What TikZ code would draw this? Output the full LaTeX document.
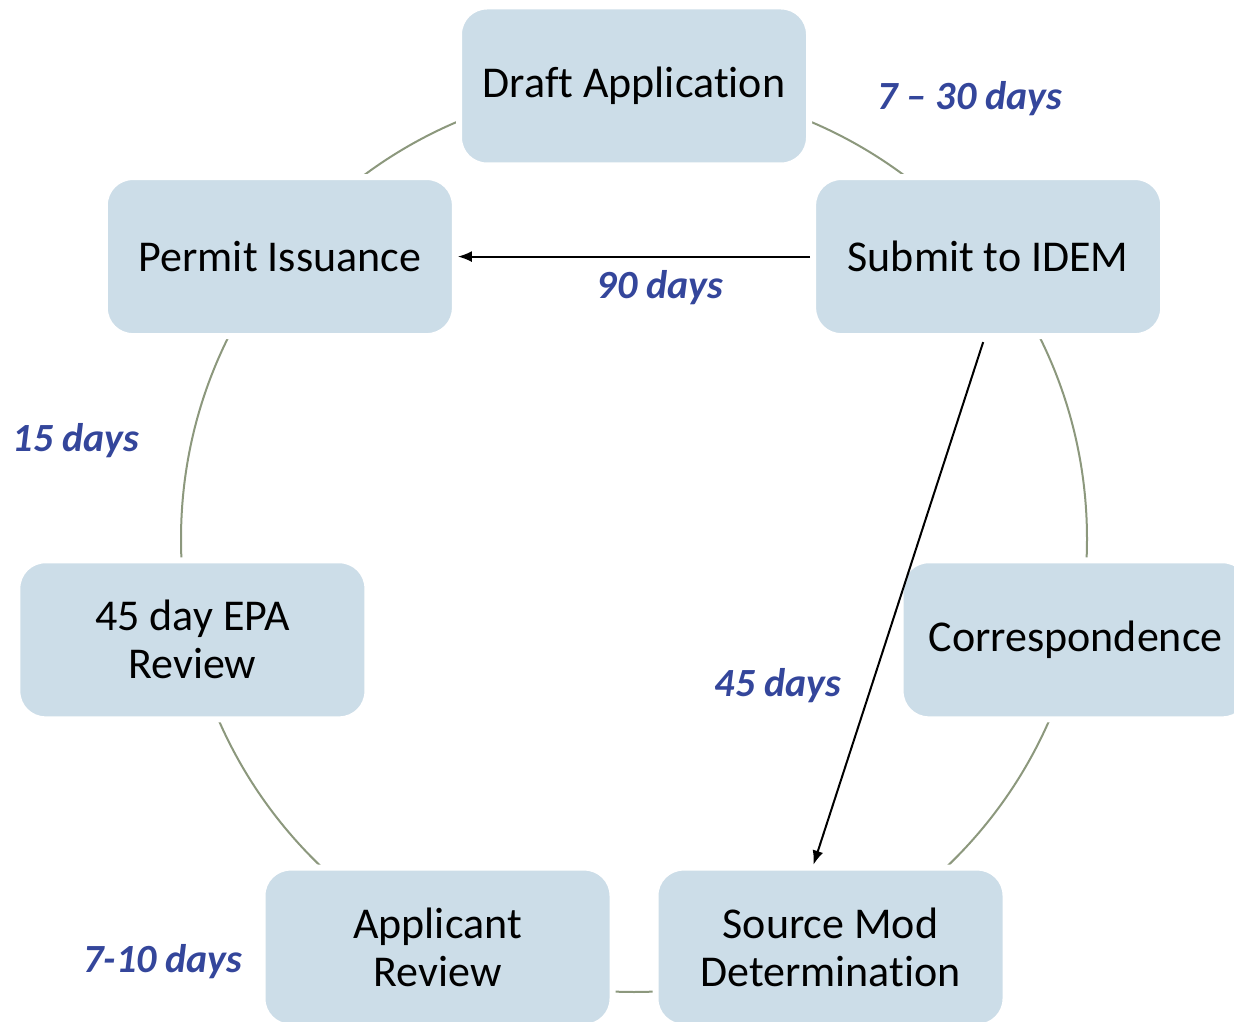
\documentclass[tikz,border=0pt]{standalone}
\usepackage{fontspec}
\setmainfont{Carlito}[Ligatures={TeX,NoCommon}]
\usetikzlibrary{arrows.meta}
\usetikzlibrary{calc}
\usetikzlibrary{positioning}

\definecolor{boxblue}{RGB}{204,221,232}
\definecolor{ringgreen}{RGB}{140,152,125}
\definecolor{daysblue}{RGB}{52,70,155}

\tikzset{
  stepbox/.style={rectangle, rounded corners=28pt, fill=boxblue, draw=white,
    line width=6pt, minimum width=350pt, minimum height=159pt, inner sep=0pt,
    align=center, font=\fontsize{44}{48}\selectfont},
  dayslabel/.style={text=daysblue, font=\fontsize{40}{44}\selectfont\bfseries\itshape},
  flow/.style={line width=2pt, -{Latex[length=14pt,width=11pt]}},
}

\begin{document}
\begin{tikzpicture}[x=1pt, y=1pt]
      \useasboundingbox (0,0) rectangle (1234,1021);
      \clip (0,0) rectangle (1234,1021);
      \coordinate (c) at (634,482);
      \draw[ringgreen, line width=2pt] (c) circle (453);

      \foreach \name/\ang/\txt in {drf/90/Draft Application, sub/38.57/Submit to IDEM,
          cor/-12.86/Correspondence, src/-64.29/Source Mod\\Determination,
          app/-115.71/Applicant\\Review, epa/-167.14/45 day EPA\\Review,
          per/141.43/Permit Issuance}{
        \node[stepbox] (\name) at ($(c)+(\ang:453)$) {\txt};
      }

      \node[dayslabel] (t1) at (970,922) {7 \textendash{} 30 days};
      \node[dayslabel] (t2) at (660,733) {90 days};
      \node[dayslabel] (t3) at (76,580) {15 days};
      \node[dayslabel] (t4) at (778,335) {45 days};
      \node[dayslabel] (t5) at (163,59) {7-10 days};

      \draw[flow] (sub.west) -- (per.east);
      \draw[flow] ([xshift=-5pt,yshift=-3pt]sub.south) -- ([xshift=-17pt]src.north);
    \end{tikzpicture}
\end{document}
